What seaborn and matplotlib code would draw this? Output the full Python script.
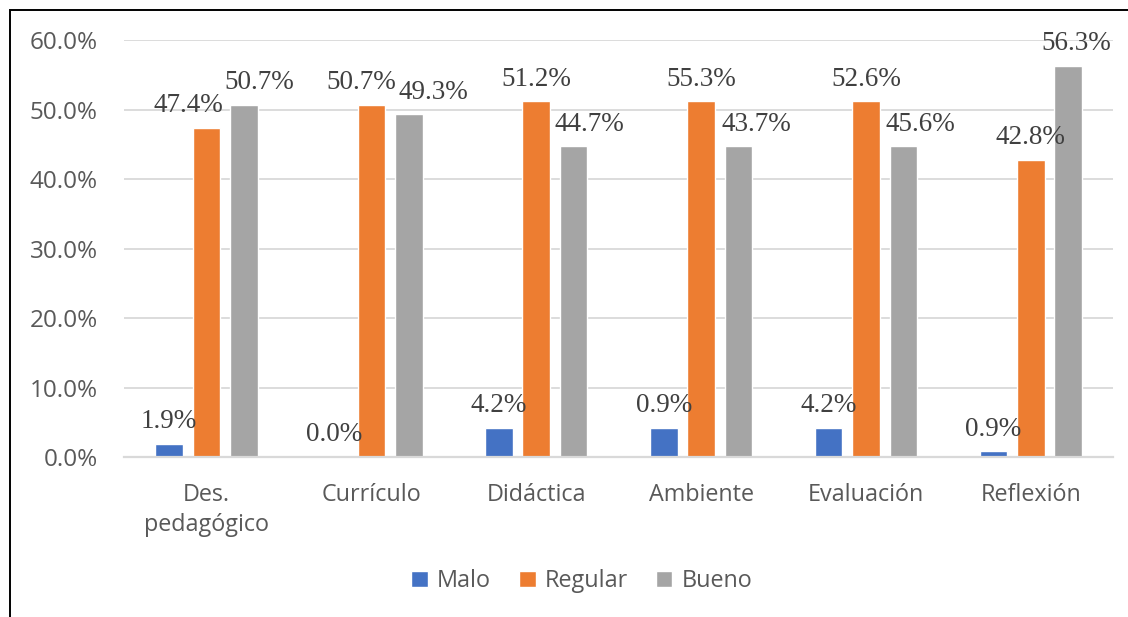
import pandas as pd
import matplotlib.pyplot as plt
import seaborn as sns
from matplotlib.patches import Rectangle
from matplotlib.ticker import FuncFormatter

categories = ["Des.\npedagógico", "Currículo", "Didáctica", "Ambiente", "Evaluación", "Reflexión"]
series = ["Malo", "Regular", "Bueno"]

# bar heights as drawn in the reference
malo = [1.9, 0.0, 4.2, 4.2, 4.2, 0.8]
regular = [47.4, 50.7, 51.2, 51.2, 51.2, 42.8]
bueno = [50.7, 49.3, 44.7, 44.7, 44.7, 56.3]

# data labels as printed in the reference
malo_labels = ["1.9%", "0.0%", "4.2%", "0.9%", "4.2%", "0.9%"]
regular_labels = ["47.4%", "50.7%", "51.2%", "55.3%", "52.6%", "42.8%"]
bueno_labels = ["50.7%", "49.3%", "44.7%", "43.7%", "45.6%", "56.3%"]

colors = ["#4472C4", "#ED7D31", "#A5A5A5"]

df = pd.DataFrame({
    "categoria": categories * 3,
    "nivel": ["Malo"] * 6 + ["Regular"] * 6 + ["Bueno"] * 6,
    "valor": malo + regular + bueno,
})

sns.set_theme(style="white")
plt.rcParams["font.family"] = ["Open Sans", "DejaVu Sans"]

fig = plt.figure(figsize=(11.28, 6.17), dpi=100)
ax = fig.add_axes([0.110, 0.2593, 0.877, 0.6757])

sns.barplot(data=df, x="categoria", y="valor", hue="nivel", hue_order=series,
            palette=colors, width=0.68, gap=0.26, saturation=1, ax=ax, legend=True)

ax.set_ylim(0, 60)
ax.set_xlim(-0.5, 5.5)
ax.set_yticks(range(0, 61, 10))
ax.yaxis.set_major_formatter(FuncFormatter(lambda v, p: f"{v:.1f}%"))
ax.grid(axis="y", color="#D9D9D9", linewidth=1.3)
ax.set_axisbelow(True)
for s in ["top", "right", "left"]:
    ax.spines[s].set_visible(False)
ax.spines["bottom"].set_color("#D9D9D9")
ax.spines["bottom"].set_linewidth(1.6)
ax.tick_params(axis="both", length=0, colors="#595959")
ax.tick_params(axis="y", pad=19, labelsize=17.5)
ax.tick_params(axis="x", pad=19, labelsize=16.8)
for t in ax.get_xticklabels():
    t.set_linespacing(1.3)
ax.set_xlabel("")
ax.set_ylabel("")

# label nudges (points) as the labels sit in the reference
all_labels = [malo_labels, regular_labels, bueno_labels]
shifts = [
    [0, 0, 0, 0, 0, 0],
    [-13, -7, 0, 0, 0, 0],
    [11, 18, 11, 13, 12, 6],
]
for cont, labs, dxs in zip(ax.containers, all_labels, shifts):
    texts = ax.bar_label(cont, labels=labs, padding=7, fontsize=19.5,
                         color="#404040", family="Liberation Serif")
    for t, dx in zip(texts, dxs):
        t.xyann = (dx, 7)

handles, lbls = ax.get_legend_handles_labels()
ax.legend_.remove()
fig.legend(handles, lbls, loc="center", bbox_to_anchor=(582 / 1128, 1 - 581 / 617),
           ncol=3, frameon=False, fontsize=16.8, labelcolor="#595959",
           handlelength=0.7, handleheight=0.7, handletextpad=0.4, columnspacing=1.2)

# chart frame, only the top and left edges show in the reference
fig.add_artist(Rectangle((10 / 1128, -0.1), 1.2, 1.1 - 10 / 617, transform=fig.transFigure,
                         fill=False, edgecolor="black", linewidth=1.4))

fig.savefig("out.png", dpi=100)
